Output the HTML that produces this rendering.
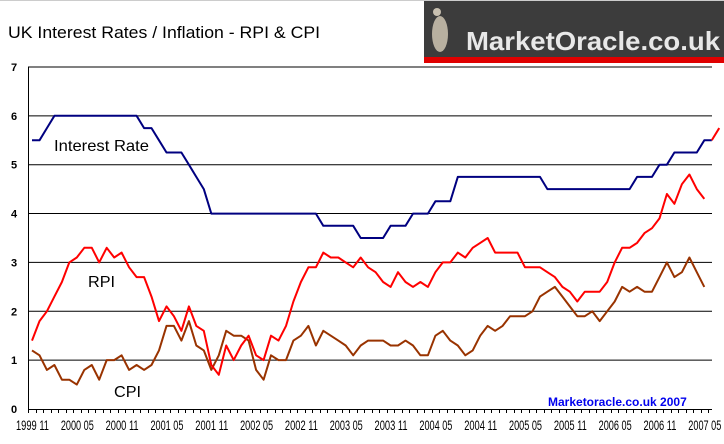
<!DOCTYPE html>
<html><head><meta charset="utf-8"><style>
body{margin:0;background:#fff;}
svg{display:block;font-family:"Liberation Sans",Arial,sans-serif;}
</style></head><body>
<svg id="chart" width="724" height="444" viewBox="0 0 724 444">
<rect x="0" y="0" width="724" height="444" fill="#fff"/>
<line x1="0" y1="0.5" x2="724" y2="0.5" stroke="#ccc"/>
<g>
<rect x="424" y="1" width="300" height="57" fill="#3c3c3c"/>
<rect x="424" y="57" width="300" height="6" fill="#e00000"/>
<ellipse cx="440" cy="34" rx="8" ry="18" fill="#b8b0a0"/>
<circle cx="437" cy="12" r="4" fill="#c8c0b0"/>
<text x="466" y="50" font-size="26" font-weight="bold" fill="#e8e8e8" textLength="254" lengthAdjust="spacingAndGlyphs">MarketOracle.co.uk</text>
</g>
<text x="8" y="38" font-size="17" fill="#000" textLength="312" lengthAdjust="spacingAndGlyphs">UK Interest Rates / Inflation - RPI &amp; CPI</text>
<g id="grid"></g>
<g id="axes"></g>
<g id="series"></g>
<text x="54" y="151" font-size="16" fill="#000" textLength="95" lengthAdjust="spacingAndGlyphs">Interest Rate</text>
<text x="88" y="287" font-size="16" fill="#000" textLength="27" lengthAdjust="spacingAndGlyphs">RPI</text>
<text x="114" y="397" font-size="16" fill="#000" textLength="27" lengthAdjust="spacingAndGlyphs">CPI</text>
<text x="548" y="406" font-size="12" font-weight="bold" fill="#0000ee">Marketoracle.co.uk 2007</text>
</svg>
<script>
const yTicks=[0,1,2,3,4,5,6,7];
const xLabels=["1999 11","2000 05","2000 11","2001 05","2001 11","2002 05","2002 11","2003 05","2003 11","2004 05","2004 11","2005 05","2005 11","2006 05","2006 11","2007 05"];
const rpi=[1.4,1.8,2.0,2.3,2.6,3.0,3.1,3.3,3.3,3.0,3.3,3.1,3.2,2.9,2.7,2.7,2.3,1.8,2.1,1.9,1.6,2.1,1.7,1.6,0.9,0.7,1.3,1.0,1.3,1.5,1.1,1.0,1.5,1.4,1.7,2.2,2.6,2.9,2.9,3.2,3.1,3.1,3.0,2.9,3.1,2.9,2.8,2.6,2.5,2.8,2.6,2.5,2.6,2.5,2.8,3.0,3.0,3.2,3.1,3.3,3.4,3.5,3.2,3.2,3.2,3.2,2.9,2.9,2.9,2.8,2.7,2.5,2.4,2.2,2.4,2.4,2.4,2.6,3.0,3.3,3.3,3.4,3.6,3.7,3.9,4.4,4.2,4.6,4.8,4.5,4.3];
const cpi=[1.2,1.1,0.8,0.9,0.6,0.6,0.5,0.8,0.9,0.6,1.0,1.0,1.1,0.8,0.9,0.8,0.9,1.2,1.7,1.7,1.4,1.8,1.3,1.2,0.8,1.1,1.6,1.5,1.5,1.4,0.8,0.6,1.1,1.0,1.0,1.4,1.5,1.7,1.3,1.6,1.5,1.4,1.3,1.1,1.3,1.4,1.4,1.4,1.3,1.3,1.4,1.3,1.1,1.1,1.5,1.6,1.4,1.3,1.1,1.2,1.5,1.7,1.6,1.7,1.9,1.9,1.9,2.0,2.3,2.4,2.5,2.3,2.1,1.9,1.9,2.0,1.8,2.0,2.2,2.5,2.4,2.5,2.4,2.4,2.7,3.0,2.7,2.8,3.1,2.8,2.5];
const rate=[5.5,5.5,5.75,6,6,6,6,6,6,6,6,6,6,6,6,5.75,5.75,5.5,5.25,5.25,5.25,5,4.75,4.5,4,4,4,4,4,4,4,4,4,4,4,4,4,4,4,3.75,3.75,3.75,3.75,3.75,3.5,3.5,3.5,3.5,3.75,3.75,3.75,4,4,4,4.25,4.25,4.25,4.75,4.75,4.75,4.75,4.75,4.75,4.75,4.75,4.75,4.75,4.75,4.75,4.5,4.5,4.5,4.5,4.5,4.5,4.5,4.5,4.5,4.5,4.5,4.5,4.75,4.75,4.75,5,5,5.25,5.25,5.25,5.25,5.5,5.5,5.75];
const NS='http://www.w3.org/2000/svg';
const X0=32,DX=7.47,Y0=409,DY=48.86;
function xs(i){return X0+DX*i;}
function ys(v){return Y0-DY*v;}
function mk(tag,attrs,parent){const e=document.createElementNS(NS,tag);for(const k in attrs)e.setAttribute(k,attrs[k]);parent.appendChild(e);return e;}
const grid=document.getElementById('grid'),axes=document.getElementById('axes'),ser=document.getElementById('series');
yTicks.forEach(v=>{
  if(v>0){const g=mk('line',{x1:28,x2:712,y1:ys(v),y2:ys(v),stroke:'#000','stroke-width':1},grid);
  
  }
  const t=mk('text',{x:14,y:ys(v)+4,'font-size':11,'font-weight':'bold','text-anchor':'middle'},axes);
  t.textContent=v;
  
  
});
const ya=mk('line',{x1:28.5,x2:28.5,y1:ys(7),y2:Y0,stroke:'#000'},axes);


const xa=mk('line',{x1:28,x2:712,y1:Y0+0.5,y2:Y0+0.5,stroke:'#000'},axes);


for(let i=0;i<=91;i++){const x=Math.round(xs(i)-DX/2)+0.5;mk('line',{x1:x,x2:x,y1:Y0,y2:Y0+4,stroke:'#000'},axes);}
xLabels.forEach((l,k)=>{
  const t=mk('text',{x:xs(k*6)-16,y:430,'font-size':13.5,textLength:33,lengthAdjust:'spacingAndGlyphs'},axes);
  t.textContent=l;
  
  
});
function line(arr,color,name,n){
  const pts=arr.slice(0,n).map((v,i)=>xs(i).toFixed(1)+','+ys(v).toFixed(1)).join(' ');
  const p=mk('polyline',{points:pts,fill:'none',stroke:color,'stroke-width':2,'stroke-linejoin':'round'},ser);
  
  
}
line(cpi,'#993300','cpi-line',cpi.length);
line(rpi,'#ff0000','rpi-line',rpi.length);
line(rate,'#000080','interest-rate-line',rate.length-1);
const last=rate.length-1;
const seg=mk('line',{x1:xs(last-1),y1:ys(rate[last-1]),x2:xs(last),y2:ys(rate[last]),stroke:'#ff0000','stroke-width':2},ser);


</script>
</body></html>
